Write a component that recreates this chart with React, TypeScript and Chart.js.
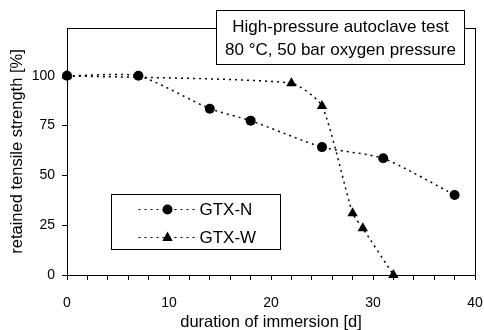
import React, { useEffect, useRef } from "react";
import { Chart, registerables } from "chart.js";

Chart.register(...registerables);

const gtxNDays = [0, 7, 14, 18, 25, 31, 38];
const gtxNValues = [100, 100, 83.5, 77.5, 64.2, 58.6, 40.2];
const gtxWDays = [0, 22, 25, 28, 29, 32];
const gtxWValues = [100, 96.3, 84.8, 31, 23.5, 0];
const seriesNames = ["GTX-N", "GTX-W"];
const yTickValues = [0, 25, 50, 75, 100];
const xLabelValues = [0, 10, 20, 30, 40];
const boxLines = ["High-pressure autoclave test", "80 °C, 50 bar oxygen pressure"];
const xTitle = "duration of immersion [d]";
const yTitle = "retained tensile strength [%]";

const FONT = "'Liberation Sans', Arial, sans-serif";

function drawMarker(ctx: CanvasRenderingContext2D, style: string, x: number, y: number, r: number) {
  ctx.beginPath();
  if (style === "triangle") {
    ctx.moveTo(x, y - r);
    ctx.lineTo(x + r * 0.866, y + r * 0.5 + 0.5);
    ctx.lineTo(x - r * 0.866, y + r * 0.5 + 0.5);
    ctx.closePath();
  } else {
    ctx.arc(x, y, r, 0, Math.PI * 2);
  }
  ctx.fill();
}

const framePlugin = {
  id: "frame",
  beforeDatasetsDraw(chart: any) {
    const { ctx, chartArea: a } = chart;
    ctx.save();
    ctx.strokeStyle = "#000";
    ctx.lineWidth = 1;
    ctx.strokeRect(Math.round(a.left) + 0.5, Math.round(a.top) + 0.5, Math.round(a.right - a.left), Math.round(a.bottom - a.top));
    ctx.restore();
  },
  afterDraw(chart: any) {
    const { ctx } = chart;
    ctx.save();
    // annotation box
    const bx = 216.5, by = 10.5, bw = 248, bh = 54;
    ctx.fillStyle = "#fff";
    ctx.fillRect(bx, by, bw, bh);
    ctx.strokeStyle = "#000";
    ctx.lineWidth = 1;
    ctx.strokeRect(bx, by, bw, bh);
    ctx.fillStyle = "#000";
    ctx.font = "17px " + FONT;
    ctx.textAlign = "center";
    ctx.textBaseline = "middle";
    ctx.fillText(boxLines[0], bx + bw / 2, by + 17);
    ctx.fillText(boxLines[1], bx + bw / 2, by + 40);

    // legend box
    const lx = 111.5, ly = 194.5, lw = 169, lh = 55;
    ctx.fillStyle = "#fff";
    ctx.fillRect(lx, ly, lw, lh);
    ctx.strokeRect(lx, ly, lw, lh);
    const rows = [ly + 15, ly + 43];
    chart.data.datasets.forEach((ds: any, i: number) => {
      const y = rows[i];
      ctx.save();
      ctx.setLineDash([2, 4]);
      ctx.lineWidth = 1;
      ctx.strokeStyle = "#000";
      ctx.beginPath();
      ctx.moveTo(lx + 27, y);
      ctx.lineTo(lx + 86, y);
      ctx.stroke();
      ctx.restore();
      ctx.fillStyle = "#000";
      drawMarker(ctx, ds.pointStyle, lx + 56, y, ds.pointRadius);
      ctx.font = "17px " + FONT;
      ctx.textAlign = "left";
      ctx.textBaseline = "middle";
      ctx.fillText(ds.label, lx + 88, y + 1);
    });
    ctx.restore();
  },
};

export default function App() {
  const ref = useRef<HTMLCanvasElement | null>(null);
  useEffect(() => {
    if (!ref.current) return;
    const chart = new Chart(ref.current, {
      type: "line",
      data: {
        datasets: [
          {
            label: seriesNames[0],
            data: gtxNDays.map((d, i) => ({ x: d, y: gtxNValues[i] })),
            borderColor: "#000",
            backgroundColor: "#000",
            borderWidth: 1.5,
            borderDash: [2, 4],
            pointStyle: "circle",
            pointRadius: 5,
            pointBorderWidth: 0,
            tension: 0.2,
            clip: false as any,
          },
          {
            label: seriesNames[1],
            data: gtxWDays.map((d, i) => ({ x: d, y: gtxWValues[i] })),
            borderColor: "#000",
            backgroundColor: "#000",
            borderWidth: 1.5,
            borderDash: [2, 4],
            pointStyle: "triangle",
            pointRadius: 6,
            pointBorderWidth: 0,
            tension: 0.2,
            clip: false as any,
          },
        ],
      },
      options: {
        responsive: false,
        animation: false,
        layout: { padding: { top: 28, right: 9, left: 0, bottom: 0 } },
        plugins: { legend: { display: false }, tooltip: { enabled: false } },
        scales: {
          x: {
            type: "linear",
            min: 0,
            max: 40,
            afterBuildTicks: (s: any) => {
              const t = [];
              for (let v = 0; v <= 40; v += 2) t.push({ value: v });
              s.ticks = t;
            },
            afterFit: (s: any) => {
              s.height = 55;
              s.paddingLeft = 0;
              s.paddingRight = 0;
            },
            grid: { drawOnChartArea: false, drawTicks: true, tickLength: 5, color: "#000" },
            border: { display: true, color: "#000" },
            ticks: {
              color: "#000",
              font: { family: FONT, size: 14 },
              padding: 15,
              maxRotation: 0,
              autoSkip: false,
              callback: (v: any) => (xLabelValues.includes(Number(v)) ? String(v) : ""),
            },
            title: {
              display: true,
              text: xTitle,
              color: "#000",
              font: { family: FONT, size: 16.5, lineHeight: 0.9 },
              padding: { top: 0, bottom: 0 },
            },
          },
          y: {
            type: "linear",
            min: 0,
            max: 124,
            afterBuildTicks: (s: any) => {
              s.ticks = yTickValues.map((v) => ({ value: v }));
            },
            afterFit: (s: any) => {
              s.width = 67;
              s.paddingTop = 0;
              s.paddingBottom = 0;
            },
            grid: { drawOnChartArea: false, drawTicks: true, tickLength: 5, color: "#000" },
            border: { display: true, color: "#000" },
            ticks: {
              color: "#000",
              font: { family: FONT, size: 14 },
              padding: 7,
              autoSkip: false,
            },
            title: {
              display: true,
              text: yTitle,
              color: "#000",
              font: { family: FONT, size: 16.5 },
              padding: { top: 8, bottom: 0 },
            },
          },
        },
      },
      plugins: [framePlugin],
    });
    return () => chart.destroy();
  }, []);
  return (
    <div style={{ position: "fixed", left: 0, top: 0, width: 484, height: 330, background: "#fff" }}>
      <canvas ref={ref} width={484} height={330} />
    </div>
  );
}
